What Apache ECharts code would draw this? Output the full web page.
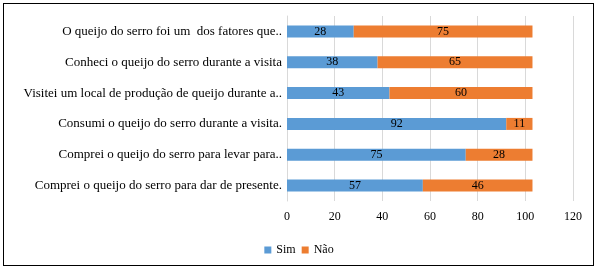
<!DOCTYPE html>
<html><head><meta charset="utf-8">
<script src="https://cdn.jsdelivr.net/npm/echarts@6/dist/echarts.min.js"></script>
<style>html,body{margin:0;padding:0;background:#fff}#c{width:598px;height:274px}
#frame{position:absolute;left:3px;top:3px;width:591px;height:263px;border:1px solid #000;box-sizing:border-box;pointer-events:none}</style>
</head><body><div id="c"></div><div id="frame"></div>
<script>
const categories = [
  "O queijo do serro foi um  dos fatores que..",
  "Conheci o queijo do serro durante a visita",
  "Visitei um local de produção de queijo durante a..",
  "Consumi o queijo do serro durante a visita.",
  "Comprei o queijo do serro para levar para..",
  "Comprei o queijo do serro para dar de presente."
];
const simValues = [28, 38, 43, 92, 75, 57];
const naoValues = [75, 65, 60, 11, 28, 46];
const xTicks = [0, 20, 40, 60, 80, 100, 120];

const font = "Liberation Serif";
const chart = echarts.init(document.getElementById('c'));
chart.setOption({
  animation: false,
  textStyle: { fontFamily: font },
  grid: { left: 287, right: 25, top: 16, bottom: 73, containLabel: false },
  legend: {
    data: ['Sim', 'Não'], bottom: 13, left: 'center',
    itemWidth: 7, itemHeight: 7, itemGap: 6, icon: 'rect',
    formatter: '{t|{name}}',
    textStyle: { fontFamily: font, fontSize: 12, color: '#000',
      rich: { t: { fontFamily: font, fontSize: 12, color: '#000' } } }
  },
  xAxis: {
    type: 'value', min: xTicks[0], max: xTicks[xTicks.length-1], interval: 20,
    axisLine: { show: false }, axisTick: { show: false },
    splitLine: { lineStyle: { color: '#d9d9d9' } },
    axisLabel: { fontFamily: font, fontSize: 12, color: '#000', margin: 10 }
  },
  yAxis: {
    type: 'category', data: categories, inverse: true,
    axisLine: { lineStyle: { color: '#d9d9d9' } }, axisTick: { show: false },
    axisLabel: { fontFamily: font, fontSize: 13, color: '#000', margin: 5 }
  },
  series: [
    { name: 'Sim', type: 'bar', stack: 't', data: simValues, barWidth: 12,
      itemStyle: { color: '#5B9BD5' },
      label: { show: true, position: 'inside', color: '#000', fontFamily: font, fontSize: 12 } },
    { name: 'Não', type: 'bar', stack: 't', data: naoValues, barWidth: 12,
      itemStyle: { color: '#ED7D31' },
      label: { show: true, position: 'inside', color: '#000', fontFamily: font, fontSize: 12 } }
  ]
});
</script></body></html>
